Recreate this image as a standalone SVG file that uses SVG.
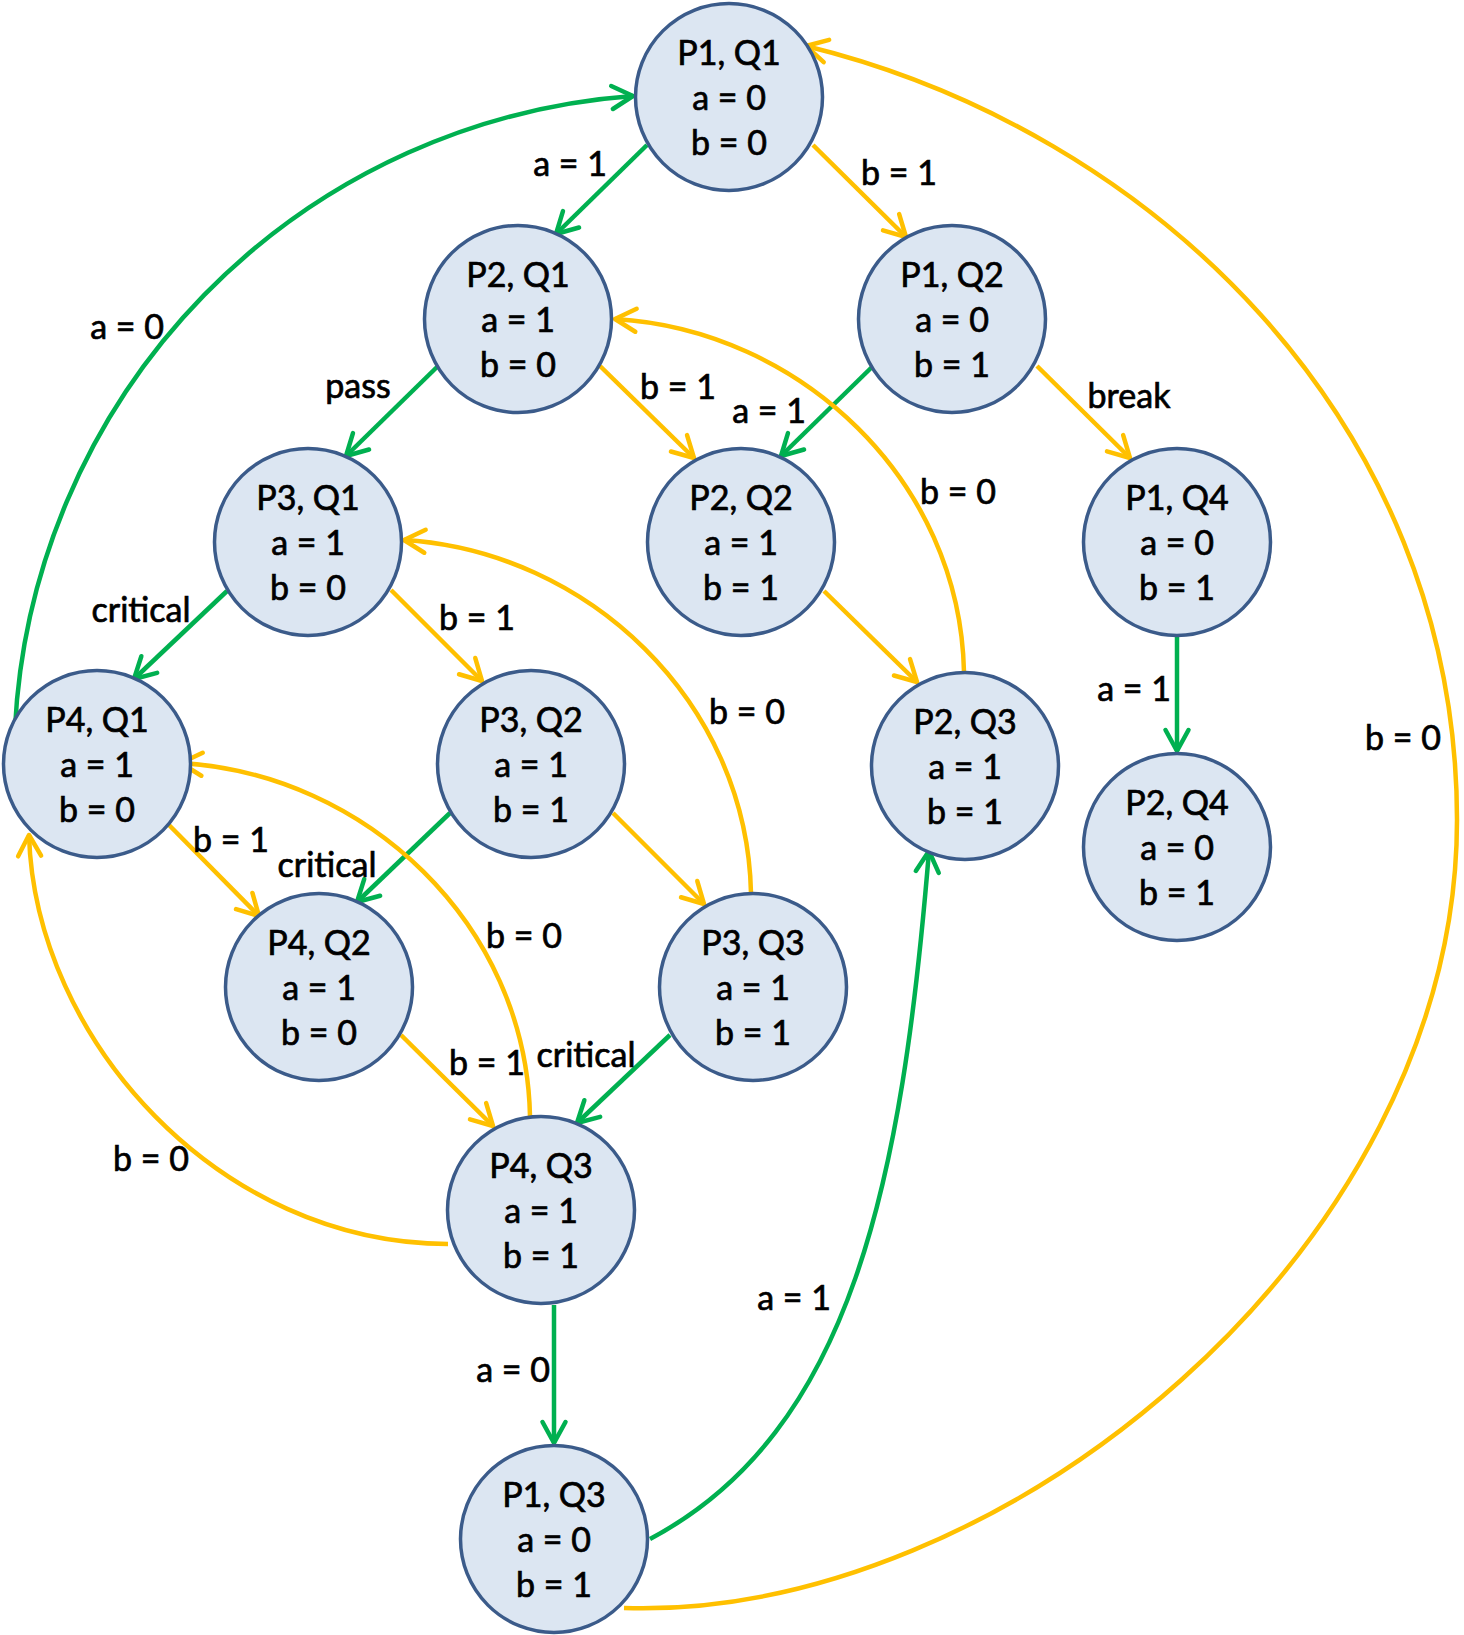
<svg xmlns="http://www.w3.org/2000/svg" width="1464" height="1635" viewBox="0 0 1464 1635">
<style>
.node circle{fill:#dce6f2;stroke:#3b5b8a;stroke-width:3.5}
text{font-family:Lato,"Liberation Sans",sans-serif;font-size:34px;fill:#000;stroke:#000;stroke-width:0.7;text-anchor:middle}
.g{fill:none;stroke:#00b050;stroke-width:4.5;marker-end:url(#ag)}
.y{fill:none;stroke:#ffc000;stroke-width:4.5;marker-end:url(#ay)}
</style>
<defs>
<marker id="ag" markerUnits="userSpaceOnUse" viewBox="-30 -20 40 40" markerWidth="40" markerHeight="40" refX="0" refY="0" orient="auto" overflow="visible">
<path d="M-21,-11.5 L0,0 L-21,11.5" fill="none" stroke="#00b050" stroke-width="4.5" stroke-linecap="round" stroke-linejoin="round"/>
</marker>
<marker id="ay" markerUnits="userSpaceOnUse" viewBox="-30 -20 40 40" markerWidth="40" markerHeight="40" refX="0" refY="0" orient="auto" overflow="visible">
<path d="M-21,-11.5 L0,0 L-21,11.5" fill="none" stroke="#ffc000" stroke-width="4.5" stroke-linecap="round" stroke-linejoin="round"/>
</marker>
</defs>
<rect width="1464" height="1635" fill="#fff"/>
<g id="connectors">
<path class="g" d="M647,145 L556,234"/>
<path class="y" d="M813,145 L906,237"/>
<path class="g" d="M437,367 L346,456"/>
<path class="y" d="M600,366 L694,458"/>
<path class="g" d="M872,367 L781,456"/>
<path class="y" d="M1037,366 L1130,458"/>
<path class="y" d="M964,672 C960,480 800,330 615,319"/>
<path class="y" d="M824,591 L917,682"/>
<path class="g" d="M227,591 L134,679"/>
<path class="y" d="M391,590 L482,681"/>
<path class="y" d="M751,893 C747,701 587,551 404,540"/>
<path class="g" d="M15,728 A667,667 0 0 1 633,96"/>
<path class="y" d="M168,824 L259,916"/>
<path class="g" d="M450,813 L357,902"/>
<path class="y" d="M613,813 L704,904"/>
<path class="y" d="M530,1116 C526,924 366,774 181,763"/>
<path class="y" d="M401,1035 L493,1126"/>
<path class="g" d="M670,1035 L577,1123"/>
<path class="y" d="M448,1244 C220,1244 35,1040 29,835"/>
<path class="g" d="M554,1305 L554,1443"/>
<path class="g" d="M650,1539 C853,1431 902,1180 929,851"/>
<path class="y" d="M624,1608 C1000,1620 1457,1250 1457,820 C1457,420 1150,130 806,46"/>
<path class="g" d="M1177,637 L1177,751"/>
</g>
<g id="labels">
<text x="570" y="176">a = 1</text>
<text x="899" y="185">b = 1</text>
<text x="127" y="339">a = 0</text>
<text x="358" y="398">pass</text>
<text x="678" y="399">b = 1</text>
<text x="769" y="423">a = 1</text>
<text x="1129" y="408">break</text>
<text x="958" y="504">b = 0</text>
<text x="141" y="622">critical</text>
<text x="477" y="630">b = 1</text>
<text x="747" y="724">b = 0</text>
<text x="1134" y="701">a = 1</text>
<text x="1403" y="750">b = 0</text>
<text x="231" y="852">b = 1</text>
<text x="327" y="877">critical</text>
<text x="524" y="948">b = 0</text>
<text x="487" y="1075">b = 1</text>
<text x="586" y="1067">critical</text>
<text x="151" y="1171">b = 0</text>
<text x="794" y="1310">a = 1</text>
<text x="513" y="1382">a = 0</text>
</g>
<g id="P1Q1" class="node"><circle cx="729" cy="97" r="93.5"/><text x="729" y="65">P1, Q1</text><text x="729" y="110">a = 0</text><text x="729" y="155">b = 0</text></g>
<g id="P2Q1" class="node"><circle cx="518" cy="319" r="93.5"/><text x="518" y="287">P2, Q1</text><text x="518" y="332">a = 1</text><text x="518" y="377">b = 0</text></g>
<g id="P1Q2" class="node"><circle cx="952" cy="319" r="93.5"/><text x="952" y="287">P1, Q2</text><text x="952" y="332">a = 0</text><text x="952" y="377">b = 1</text></g>
<g id="P3Q1" class="node"><circle cx="308" cy="542" r="93.5"/><text x="308" y="510">P3, Q1</text><text x="308" y="555">a = 1</text><text x="308" y="600">b = 0</text></g>
<g id="P2Q2" class="node"><circle cx="741" cy="542" r="93.5"/><text x="741" y="510">P2, Q2</text><text x="741" y="555">a = 1</text><text x="741" y="600">b = 1</text></g>
<g id="P1Q4" class="node"><circle cx="1177" cy="542" r="93.5"/><text x="1177" y="510">P1, Q4</text><text x="1177" y="555">a = 0</text><text x="1177" y="600">b = 1</text></g>
<g id="P4Q1" class="node"><circle cx="97" cy="764" r="93.5"/><text x="97" y="732">P4, Q1</text><text x="97" y="777">a = 1</text><text x="97" y="822">b = 0</text></g>
<g id="P3Q2" class="node"><circle cx="531" cy="764" r="93.5"/><text x="531" y="732">P3, Q2</text><text x="531" y="777">a = 1</text><text x="531" y="822">b = 1</text></g>
<g id="P2Q3" class="node"><circle cx="965" cy="766" r="93.5"/><text x="965" y="734">P2, Q3</text><text x="965" y="779">a = 1</text><text x="965" y="824">b = 1</text></g>
<g id="P2Q4" class="node"><circle cx="1177" cy="847" r="93.5"/><text x="1177" y="815">P2, Q4</text><text x="1177" y="860">a = 0</text><text x="1177" y="905">b = 1</text></g>
<g id="P4Q2" class="node"><circle cx="319" cy="987" r="93.5"/><text x="319" y="955">P4, Q2</text><text x="319" y="1000">a = 1</text><text x="319" y="1045">b = 0</text></g>
<g id="P3Q3" class="node"><circle cx="753" cy="987" r="93.5"/><text x="753" y="955">P3, Q3</text><text x="753" y="1000">a = 1</text><text x="753" y="1045">b = 1</text></g>
<g id="P4Q3" class="node"><circle cx="541" cy="1210" r="93.5"/><text x="541" y="1178">P4, Q3</text><text x="541" y="1223">a = 1</text><text x="541" y="1268">b = 1</text></g>
<g id="P1Q3" class="node"><circle cx="554" cy="1539" r="93.5"/><text x="554" y="1507">P1, Q3</text><text x="554" y="1552">a = 0</text><text x="554" y="1597">b = 1</text></g>
</svg>
